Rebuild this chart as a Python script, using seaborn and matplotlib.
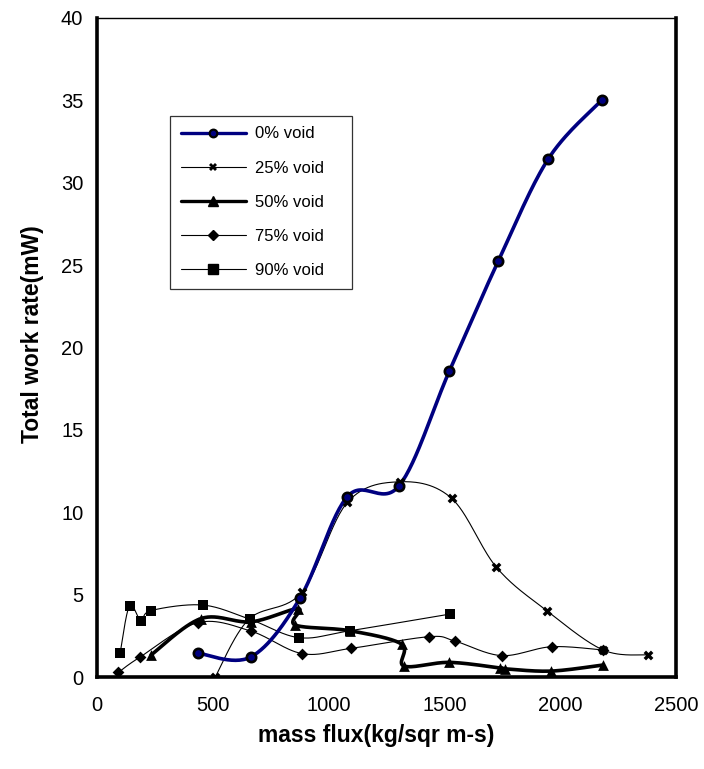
import numpy as np
import matplotlib
matplotlib.use("Agg")
import matplotlib.pyplot as plt
import seaborn as sns
from matplotlib.lines import Line2D

# mass flux (kg/sqr m-s) and total work rate (mW) for each void fraction
flux_0 = [435, 664, 877, 1081, 1304, 1521, 1733, 1949, 2179]
work_0 = [1.45, 1.22, 4.8, 10.95, 11.6, 18.55, 25.25, 31.45, 35.0]

flux_25 = [510, 655, 884, 1081, 1308, 1531, 1725, 1942, 2186, 2381]
work_25 = [0.0, 3.5, 5.14, 10.6, 11.85, 10.85, 6.66, 4.03, 1.64, 1.34]

flux_50 = [233, 449, 665, 869, 855, 1092, 1315, 1325, 1521, 1740, 1760, 1960, 2186]
work_50 = [1.34, 3.55, 3.35, 4.15, 3.16, 2.81, 2.0, 0.67, 0.89, 0.55, 0.5, 0.36, 0.73]

flux_75 = [92, 183, 435, 664, 886, 1097, 1435, 1546, 1747, 1963, 2186]
work_75 = [0.28, 1.19, 3.3, 2.79, 1.42, 1.74, 2.45, 2.18, 1.3, 1.84, 1.64]

flux_90 = [99, 140, 190, 232, 456, 661, 872, 1092, 1524]
work_90 = [1.44, 4.33, 3.4, 4.03, 4.37, 3.5, 2.39, 2.81, 3.82]

labels = ["0% void", "25% void", "50% void", "75% void", "90% void"]
x_ticks = [0, 500, 1000, 1500, 2000, 2500]
y_ticks = [0, 5, 10, 15, 20, 25, 30, 35, 40]

sns.set_style("white")
plt.rcParams["font.family"] = ["Liberation Sans", "DejaVu Sans"]
plt.rcParams["text.color"] = "black"
plt.rcParams["axes.labelcolor"] = "black"
plt.rcParams["xtick.color"] = "black"
plt.rcParams["ytick.color"] = "black"

fig = plt.figure(figsize=(7.04, 7.69), dpi=100)
ax = fig.add_axes([0.138, 0.1196, 0.822, 0.857])
ax.set_xlim(0, 2500)
ax.set_ylim(0, 40)


def smooth(x, y, n=30):
    """Bezier smoothing through the points (Catmull-Rom style), done in a
    space proportional to the plotted axes so curves look even on screen."""
    sx, sy = 2500 / 579.0, 40 / 659.0
    P = np.column_stack([np.asarray(x, float) / sx, np.asarray(y, float) / sy])
    P = np.vstack([P[0], P, P[-1]])
    t = np.linspace(0, 1, n, endpoint=False)[:, None]
    pieces = []
    for i in range(1, len(P) - 2):
        p0, p1, p2, p3 = P[i - 1], P[i], P[i + 1], P[i + 2]
        c1 = p1 + (p2 - p0) / 6.0
        c2 = p2 - (p3 - p1) / 6.0
        pieces.append((1 - t) ** 3 * p1 + 3 * (1 - t) ** 2 * t * c1
                      + 3 * (1 - t) * t ** 2 * c2 + t ** 3 * p2)
    pieces.append(P[-2][None, :])
    C = np.vstack(pieces)
    return C[:, 0] * sx, C[:, 1] * sy


series = [
    (flux_90, work_90, dict(color="black", lw=0.8), dict(marker="s", s=50, fc="black", ec="black", lw=0)),
    (flux_75, work_75, dict(color="black", lw=0.8), dict(marker="D", s=36, fc="black", ec="black", lw=0)),
    (flux_25, work_25, dict(color="black", lw=0.8), dict(marker="X", s=50, fc="black", ec="black", lw=0)),
    (flux_50, work_50, dict(color="black", lw=2.6), dict(marker="^", s=60, fc="black", ec="black", lw=0)),
    (flux_0, work_0, dict(color="#000080", lw=2.6), dict(marker="o", s=45, fc="#000080", ec="black", lw=1.9)),
]

for fx, wk, lstyle, mstyle in series:
    cx, cy = smooth(fx, wk)
    sns.lineplot(x=cx, y=cy, sort=False, estimator=None, ax=ax,
                 color=lstyle["color"], linewidth=lstyle["lw"], zorder=2)
    sns.scatterplot(x=fx, y=wk, ax=ax, marker=mstyle["marker"], s=mstyle["s"],
                    color=mstyle["fc"], edgecolor=mstyle["ec"],
                    linewidth=mstyle["lw"], zorder=3)

ax.set_xticks(x_ticks)
ax.set_yticks(y_ticks)
ax.set_xticklabels([str(v) for v in x_ticks])
ax.set_yticklabels([str(v) for v in y_ticks])
ax.tick_params(axis="both", which="major", direction="out", length=6,
               width=0.8, color="black", labelcolor="black", labelsize=14.5, pad=4)
ax.tick_params(axis="x", pad=8)

for side in ["left", "bottom", "right"]:
    ax.spines[side].set_linewidth(2.6)
    ax.spines[side].set_color("black")
ax.spines["top"].set_linewidth(1.0)
ax.spines["top"].set_color("black")

ax.set_xlabel("mass flux(kg/sqr m-s)", fontsize=16.5, fontweight="bold", color="black")
ax.set_ylabel("Total work rate(mW)", fontsize=16.5, fontweight="bold", color="black")
ax.xaxis.set_label_coords(0.482, -0.072)
ax.yaxis.set_label_coords(-0.092, 0.52)

handles = [
    Line2D([], [], color="#000080", lw=2.4, marker="o", ms=5.5, mfc="#000080", mec="black", mew=1.6),
    Line2D([], [], color="black", lw=0.8, marker="X", ms=6, mfc="black", mec="black", mew=0),
    Line2D([], [], color="black", lw=2.4, marker="^", ms=6.5, mfc="black", mec="black"),
    Line2D([], [], color="black", lw=0.8, marker="D", ms=5, mfc="black", mec="black"),
    Line2D([], [], color="black", lw=0.8, marker="s", ms=6.5, mfc="black", mec="black"),
]
leg = ax.legend(handles, labels, loc="upper left",
                bbox_to_anchor=(0.126, 0.578, 0.314, 0.274), mode="expand",
                fontsize=12, frameon=True, fancybox=False, shadow=False,
                handlelength=3.9, handletextpad=0.55, labelspacing=1.15,
                borderpad=0.65, borderaxespad=0.0)
leg.get_frame().set_edgecolor("black")
leg.get_frame().set_linewidth(0.9)
for txt in leg.get_texts():
    txt.set_color("black")

fig.savefig("out.png", dpi=100)
